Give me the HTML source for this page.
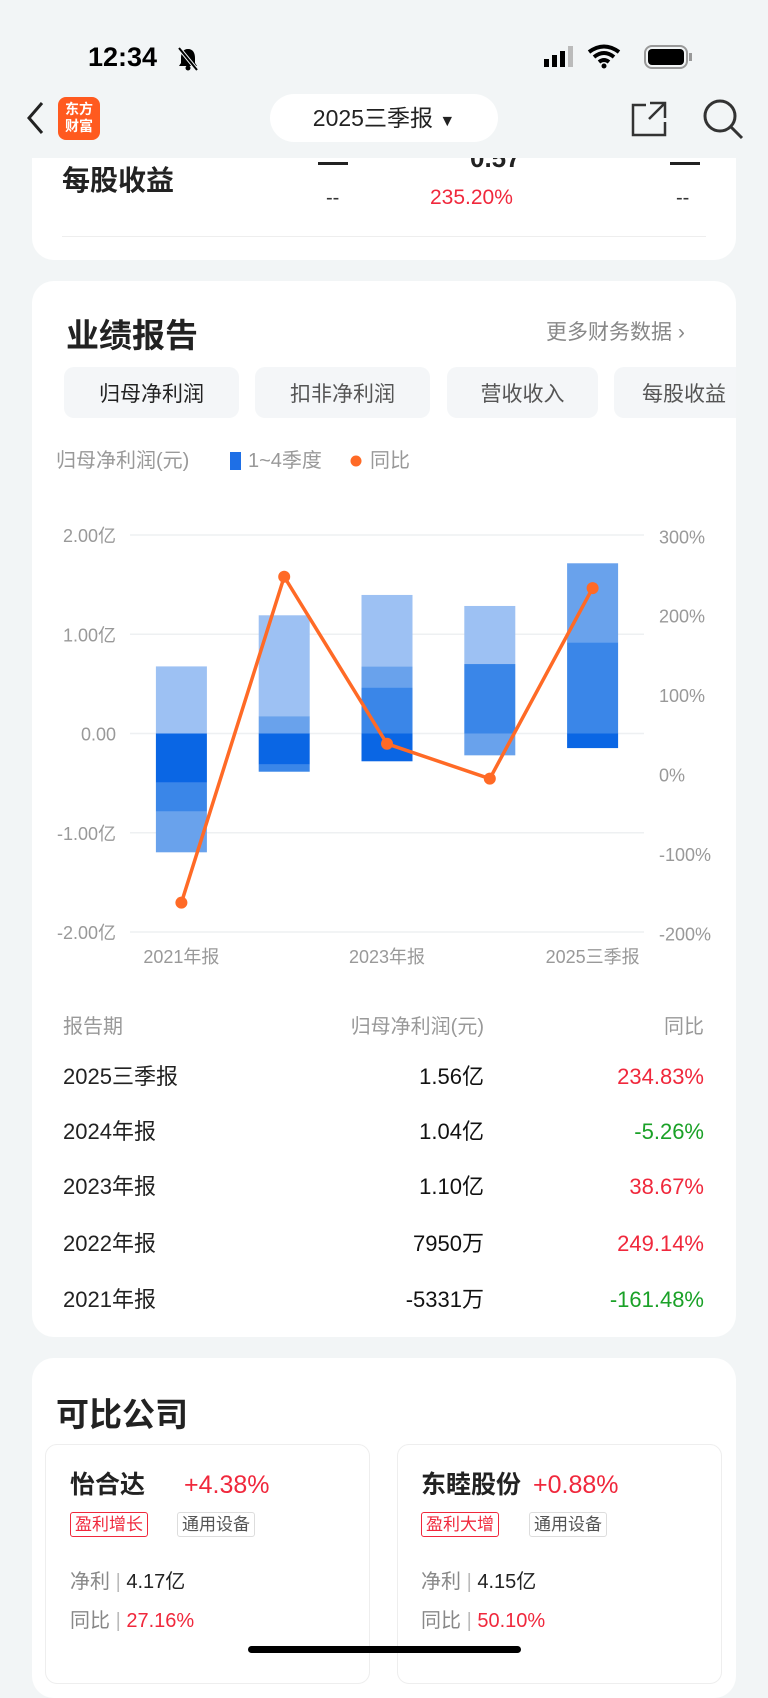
<!DOCTYPE html>
<html><head><meta charset="utf-8">
<style>
*{margin:0;padding:0;box-sizing:border-box}
body{width:768px;height:1669px;background:#f2f5f6;font-family:"Liberation Sans","Noto Sans CJK SC",sans-serif;position:relative;overflow:hidden;color:#222}
.abs{position:absolute}
.card{position:absolute;background:#fff;border-radius:22px}
.tab{position:absolute;top:367px;height:51px;background:#f4f6f8;border-radius:10px;font-size:21px;color:#555;display:flex;align-items:center;justify-content:center}
.th{position:absolute;top:1010px;font-size:20px;color:#999}
.row{position:absolute;font-size:22px;line-height:26px}
.red{color:#f0283c}.green{color:#1aa127}
.tag{position:absolute;top:1512px;height:25px;font-size:17px;line-height:23px;padding:0 4px;border-radius:3px}
</style></head><body>
<div class="abs" style="left:88px;top:42px;font-size:27px;font-weight:bold;color:#000">12:34</div>
<svg class="abs" style="left:176px;top:46px" width="24" height="26"><path d="M12 3C7 3 5 7 5 12V17L3 20H21L19 17V12C19 7 17 3 12 3Z" fill="#000"/><circle cx="12" cy="22" r="2.5" fill="#000"/><path d="M3 2L21 24" stroke="#f2f5f6" stroke-width="4"/><path d="M3 2L21 24" stroke="#000" stroke-width="2"/></svg>
<div class="abs" style="left:544px;top:44px;width:155px;height:26px">
 <svg width="155" height="26"><rect x="0" y="15" width="5" height="8" fill="#000"/><rect x="8" y="11" width="5" height="12" fill="#000"/><rect x="16" y="7" width="5" height="16" fill="#000"/><rect x="24" y="2" width="5" height="21" fill="#bbb"/>
 <path d="M45 8 Q60 -3 75 8 M50 13 Q60 5 70 13 M55 18 Q60 14 65 18" stroke="#000" stroke-width="4" fill="none"/><circle cx="60" cy="22" r="2.5" fill="#000"/>
 <rect x="101" y="2" width="42" height="22" rx="7" fill="none" stroke="#999" stroke-width="2"/><rect x="104" y="5" width="36" height="16" rx="4" fill="#000"/><rect x="145" y="9" width="3" height="8" fill="#999"/></svg></div>
<svg class="abs" style="left:24px;top:100px" width="22" height="36"><path d="M18 3L5 18L18 33" fill="none" stroke="#222" stroke-width="3"/></svg>
<div class="abs" style="left:58px;top:97px;width:42px;height:43px;background:#ff5a1f;border-radius:8px;color:#fff;font-size:14px;font-weight:bold;line-height:17px;text-align:center;padding-top:4px">东方<br>财富</div>
<div class="abs" style="left:270px;top:94px;width:228px;height:48px;background:#fff;border-radius:24px;font-size:23px;line-height:48px;text-align:center;color:#222">2025三季报 <span style="font-size:16px">▼</span></div>
<svg class="abs" style="left:630px;top:100px" width="38" height="38"><path d="M20 3H35V18M35 3L19 19M16 5H3V35H35V22" fill="none" stroke="#333" stroke-width="2.5"/></svg>
<svg class="abs" style="left:702px;top:98px" width="42" height="42"><circle cx="18" cy="18" r="15" fill="none" stroke="#333" stroke-width="3"/><path d="M29 29L40 40" stroke="#333" stroke-width="3"/></svg>

<div class="card" style="left:32px;top:158px;width:704px;height:102px;border-radius:0 0 22px 22px"></div>
<div class="abs" style="left:62px;top:159px;font-size:28px;font-weight:bold">每股收益</div>
<div class="abs" style="left:470px;top:158px;font-size:26px;height:14px;overflow:hidden;width:80px;line-height:26px;font-weight:bold"><div style="margin-top:-13px">0.57</div></div>
<div class="abs" style="left:318px;top:158px;width:30px;height:10px;overflow:hidden"><div style="width:30px;height:3px;background:#222;margin-top:4px"></div></div>
<div class="abs" style="left:670px;top:158px;width:30px;height:10px;overflow:hidden"><div style="width:30px;height:3px;background:#222;margin-top:4px"></div></div>
<div class="abs" style="left:326px;top:187px;font-size:20px;color:#333">--</div>
<div class="abs red" style="left:430px;top:186px;font-size:21px">235.20%</div>
<div class="abs" style="left:676px;top:187px;font-size:20px;color:#333">--</div>
<div class="abs" style="left:62px;top:236px;width:644px;height:1px;background:#eee"></div>

<div class="card" style="left:32px;top:281px;width:704px;height:1056px"></div>
<div class="abs" style="left:66px;top:309px;font-size:33px;font-weight:bold">业绩报告</div>
<div class="abs" style="left:546px;top:316px;font-size:21px;color:#888">更多财务数据 ›</div>
<div class="tab" style="left:64px;width:175px;color:#222">归母净利润</div>
<div class="tab" style="left:255px;width:175px">扣非净利润</div>
<div class="tab" style="left:447px;width:151px">营收收入</div>
<div class="abs" style="left:614px;top:367px;width:122px;height:51px;overflow:hidden"><div class="tab" style="left:0;top:0;width:140px;border-radius:10px 0 0 10px">每股收益</div></div>

<svg class="abs" style="left:0;top:440px" width="768" height="540" id="chart"></svg>

<div class="th" style="left:63px">报告期</div>
<div class="th" style="right:284px">归母净利润(元)</div>
<div class="th" style="right:64px">同比</div>
<div id="rows"></div>

<div class="card" style="left:32px;top:1358px;width:704px;height:340px"></div>
<div class="abs" style="left:56px;top:1388px;font-size:33px;font-weight:bold">可比公司</div>
<div class="abs" style="left:45px;top:1444px;width:325px;height:240px;border:1px solid #eee;border-radius:12px"></div>
<div class="abs" style="left:397px;top:1444px;width:325px;height:240px;border:1px solid #eee;border-radius:12px"></div>
<div class="abs" style="left:70px;top:1470px;font-size:25px;line-height:30px;font-weight:bold">怡合达</div>
<div class="abs red" style="left:184px;top:1470px;font-size:25px;line-height:30px">+4.38%</div>
<div class="tag red" style="left:70px;border:1px solid #f0283c">盈利增长</div>
<div class="tag" style="left:177px;border:1px solid #ddd;color:#555">通用设备</div>
<div class="abs" style="left:70px;top:1565px;font-size:20px;color:#888">净利 <span style="color:#bbb">|</span> <span style="color:#222">4.17亿</span></div>
<div class="abs" style="left:70px;top:1604px;font-size:20px;color:#888">同比 <span style="color:#bbb">|</span> <span class="red">27.16%</span></div>
<div class="abs" style="left:421px;top:1470px;font-size:25px;line-height:30px;font-weight:bold">东睦股份</div>
<div class="abs red" style="left:533px;top:1470px;font-size:25px;line-height:30px">+0.88%</div>
<div class="tag red" style="left:421px;border:1px solid #f0283c">盈利大增</div>
<div class="tag" style="left:529px;border:1px solid #ddd;color:#555">通用设备</div>
<div class="abs" style="left:421px;top:1565px;font-size:20px;color:#888">净利 <span style="color:#bbb">|</span> <span style="color:#222">4.15亿</span></div>
<div class="abs" style="left:421px;top:1604px;font-size:20px;color:#888">同比 <span style="color:#bbb">|</span> <span class="red">50.10%</span></div>
<div class="abs" style="left:248px;top:1646px;width:273px;height:7px;border-radius:4px;background:#000"></div>

<script>
const categories=["2021年报","2022年报","2023年报","2024年报","2025三季报"];
const q1=[-0.497,-0.315,-0.28,0,-0.147];
const q2=[-0.29,-0.07,0.466,0.70,0.92];
const q3=[-0.41,0.175,0.21,-0.22,0.795];
const q4=[0.676,1.016,0.72,0.585,0];
const yoy=[-161.48,249.14,38.67,-5.26,234.83];
const leftTicks=[2,1,0,-1,-2];
const leftTickLabels=["2.00亿","1.00亿","0.00","-1.00亿","-2.00亿"];
const rightTicks=[300,200,100,0,-100,-200];
const xLabelIdx=[0,2,4];
const tableProfit=["1.56亿","1.04亿","1.10亿","7950万","-5331万"];
const tableYoy=["234.83%","-5.26%","38.67%","249.14%","-161.48%"];
const tablePeriods=["2025三季报","2024年报","2023年报","2022年报","2021年报"];

const NS="http://www.w3.org/2000/svg";
const svg=document.getElementById('chart');
const X0=130,X1=644,step=(X1-X0)/categories.length,bw=51;
const xC=i=>X0+step*(i+0.5);
const yL=v=>293.5-v*99.25;
const yR=p=>334.5-p*0.7938;
function mk(t,a){const e=document.createElementNS(NS,t);for(const k in a)e.setAttribute(k,a[k]);svg.appendChild(e);return e;}
function txt(x,y,s,anchor,size,fill){const e=mk('text',{x:x,y:y,'text-anchor':anchor,'font-size':size,fill:fill,'font-family':'"Liberation Sans","Noto Sans CJK SC",sans-serif'});e.textContent=s;return e;}
let t=txt(56,27,"归母净利润(元)","start",20,"#999");


const lg=mk('rect',{x:230,y:12,width:11,height:18,fill:'#1e6fe6'});


t=txt(248,27,"1~4季度","start",20,"#999");


const ld=mk('circle',{cx:356,cy:21,r:5.5,fill:'#ff6a26'});


t=txt(370,27,"同比","start",20,"#999");


leftTicks.forEach((v,i)=>{
 const g=mk('line',{x1:X0,x2:X1,y1:yL(v),y2:yL(v),stroke:'#eef0f2','stroke-width':1.5});
 
 
 const l=txt(116,yL(v)+7,leftTickLabels[i],"end",18,"#999");
 
 
});
rightTicks.forEach(p=>{
 const l=txt(659,yR(p)+7,p+"%","start",18,"#999");
 
 
});
const colors=['#0a66e4','#3a86e8','#69a2ec','#9dc1f3'];
const qs=[q1,q2,q3,q4];
categories.forEach((c,i)=>{
 let pos=0,neg=0;
 qs.forEach((q,k)=>{
  const v=q[i];if(!v)return;
  let a,b;
  if(v>0){a=pos;b=pos+v;pos=b;}else{a=neg;b=neg+v;neg=b;}
  const y1=yL(Math.max(a,b)),y2=yL(Math.min(a,b));
  const r=mk('rect',{x:xC(i)-bw/2,y:y1,width:bw,height:y2-y1,fill:colors[k]});
  
  
 });
});
const pts=yoy.map((p,i)=>xC(i)+','+yR(p)).join(' ');
const pl=mk('polyline',{points:pts,fill:'none',stroke:'#ff6a26','stroke-width':3.5,'stroke-linejoin':'round'});


yoy.forEach((p,i)=>{
 const d=mk('circle',{cx:xC(i),cy:yR(p),r:6,fill:'#ff6a26'});
 
 
});
xLabelIdx.forEach(i=>{
 const l=txt(xC(i),523,categories[i],"middle",18,"#999");
 
 
});
const rows=document.getElementById('rows');
const rowY=[1064,1119,1174,1231,1287];
tablePeriods.forEach((p,i)=>{
 const cls=tableYoy[i].startsWith('-')?'green':'red';
 const a=document.createElement('div');a.className='row';a.style.left='63px';a.style.top=rowY[i]+'px';a.textContent=p;
 
 
 const b=document.createElement('div');b.className='row';b.style.right='284px';b.style.top=rowY[i]+'px';b.textContent=tableProfit[i];b.style.color='#111';
 
 
 const c=document.createElement('div');c.className='row '+cls;c.style.right='64px';c.style.top=rowY[i]+'px';c.textContent=tableYoy[i];
 
 
 rows.appendChild(a);rows.appendChild(b);rows.appendChild(c);
});
</script>
</body></html>
